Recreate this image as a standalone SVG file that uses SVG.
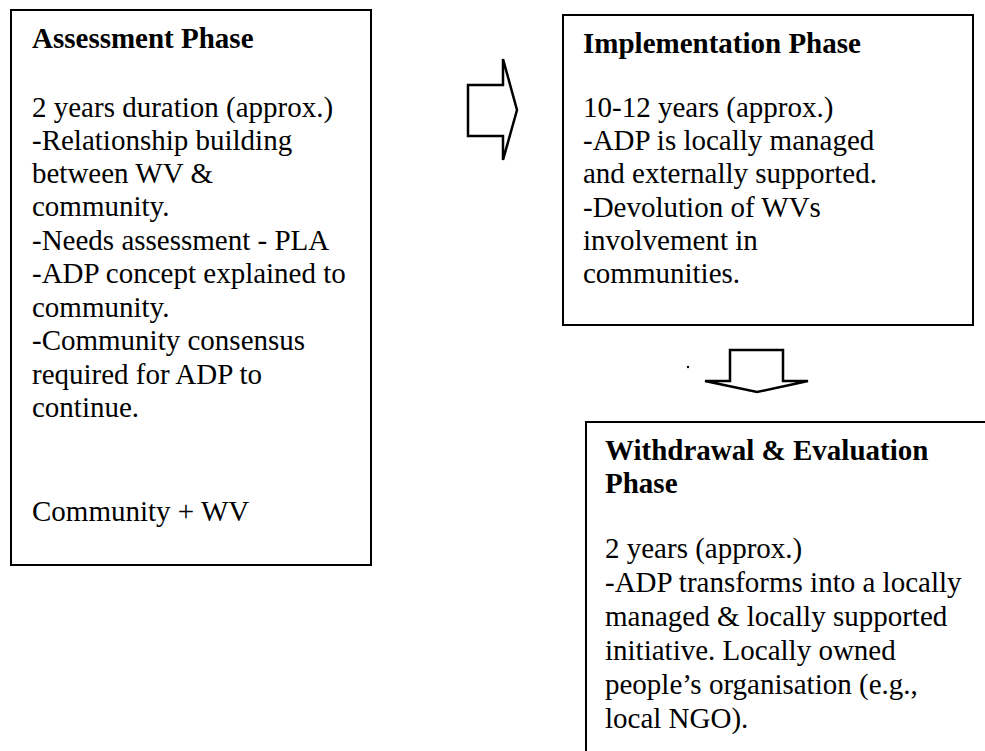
<svg xmlns="http://www.w3.org/2000/svg" width="985" height="751" viewBox="0 0 985 751">
<style>
.box{fill:#fff;stroke:#000;stroke-width:2}
.arr{fill:none;stroke:#000;stroke-width:2.5;stroke-linejoin:miter}
text{font-family:"Liberation Serif","Times New Roman",serif;font-size:29px;fill:#000}
.t{font-weight:bold}
</style>
<rect width="985" height="751" fill="#fff"/>
<g id="assessment">
<rect class="box" x="11" y="10" width="360" height="555"/>
<text class="t" x="32" y="48">Assessment Phase</text>
<text x="32" y="117">2 years duration (approx.)</text>
<text x="32" y="150">-Relationship building</text>
<text x="32" y="183">between WV &amp;</text>
<text x="32" y="216">community.</text>
<text x="32" y="250">-Needs assessment - PLA</text>
<text x="32" y="283">-ADP concept explained to</text>
<text x="32" y="317">community.</text>
<text x="32" y="350">-Community consensus</text>
<text x="32" y="384">required for ADP to</text>
<text x="32" y="417">continue.</text>
<text x="32" y="521">Community + WV</text>
</g>
<g id="implementation">
<rect class="box" x="563" y="15" width="410" height="310"/>
<text class="t" x="583" y="53">Implementation Phase</text>
<text x="583" y="117">10-12 years (approx.)</text>
<text x="583" y="150">-ADP is locally managed</text>
<text x="583" y="183">and externally supported.</text>
<text x="583" y="217">-Devolution of WVs</text>
<text x="583" y="250">involvement in</text>
<text x="583" y="283">communities.</text>
</g>
<g id="withdrawal">
<rect class="box" x="586" y="422" width="420" height="350"/>
<text class="t" x="605" y="460">Withdrawal &amp; Evaluation</text>
<text class="t" x="605" y="493">Phase</text>
<text x="605" y="558">2 years (approx.)</text>
<text x="605" y="592">-ADP transforms into a locally</text>
<text x="605" y="626">managed &amp; locally supported</text>
<text x="605" y="660">initiative. Locally owned</text>
<text x="605" y="694">people’s organisation (e.g.,</text>
<text x="605" y="728">local NGO).</text>
</g>
<g id="connectors">
<polygon class="arr" points="468,85 503,85 503,59 517,110 503,160 503,136 468,136"/>
<polygon class="arr" points="730,350 783,350 783,381 808,381 757,392 705,381 730,381"/>
<circle cx="688" cy="367" r="1.2" fill="#000"/>
</g>
</svg>
